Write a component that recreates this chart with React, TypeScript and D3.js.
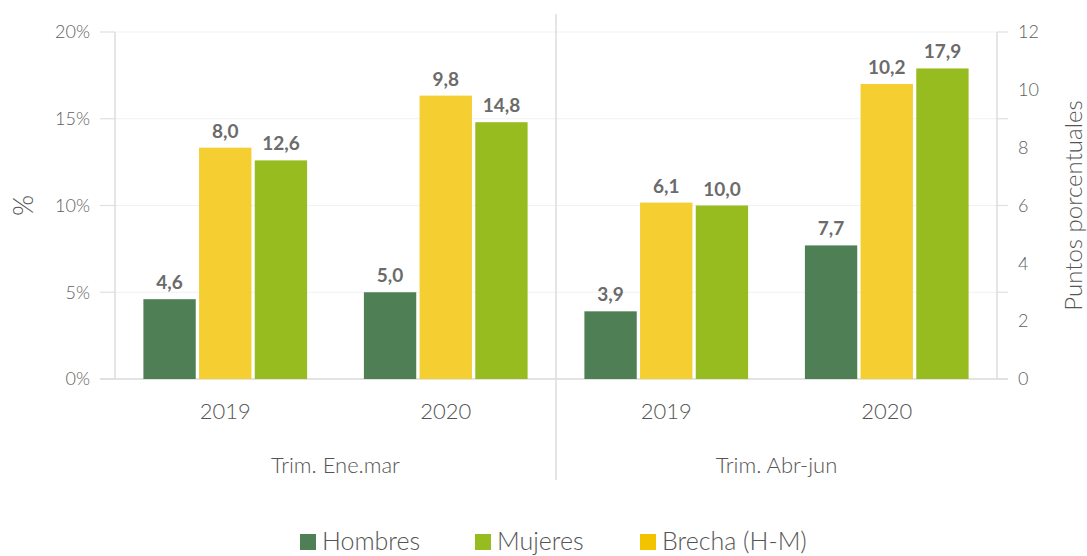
import React from "react";
import * as d3 from "d3";

const years = ["2019", "2020", "2019", "2020"];
const periods = ["Trim. Ene.mar", "Trim. Abr-jun"];
const hombres = [4.6, 5.0, 3.9, 7.7];
const mujeres = [12.6, 14.8, 10.0, 17.9];
const brecha = [8.0, 9.8, 6.1, 10.2];
const leftTicks = [0, 5, 10, 15, 20];
const rightTicks = [0, 2, 4, 6, 8, 10, 12];

const W = 1087;
const H = 556;
const font = "Lato, 'Noto Sans', sans-serif";
const colors = { hombres: "#4f7f55", mujeres: "#97bc20", brecha: "#f5ce31" };
const legendColors = { hombres: "#4f7f55", mujeres: "#97bc20", brecha: "#f4c300" };

const fmt = (v: number) => d3.format(".1f")(v).replace(".", ",");

export default function App() {
  const left = 115, right = 997, top = 32, bottom = 379;

  const x = d3.scaleBand<number>().domain(d3.range(years.length)).range([left, right]);
  const inner = d3
    .scaleBand<string>()
    .domain(["hombres", "brecha", "mujeres"])
    .range([0, x.bandwidth()])
    .paddingInner(0.06)
    .paddingOuter(0.51);
  const yL = d3.scaleLinear().domain([0, 20]).range([bottom, top]);
  const yR = d3.scaleLinear().domain([0, 12]).range([bottom, top]);

  const bars: { key: string; i: number; v: number; y: number }[] = [];
  years.forEach((_, i) => {
    bars.push({ key: "hombres", i, v: hombres[i], y: yL(hombres[i]) });
    bars.push({ key: "brecha", i, v: brecha[i], y: yR(brecha[i]) });
    bars.push({ key: "mujeres", i, v: mujeres[i], y: yL(mujeres[i]) });
  });

  const divX = (x(1)! + x.bandwidth() + x(2)!) / 2;

  const legend = [
    { key: "hombres", label: "Hombres", x: 300 },
    { key: "mujeres", label: "Mujeres", x: 475 },
    { key: "brecha", label: "Brecha (H-M)", x: 640 },
  ];

  return (
    <svg
      width={W}
      height={H}
      style={{ position: "absolute", left: 0, top: 0, background: "#fff" }}
      fontFamily={font}
    >
      {/* grid */}
      {leftTicks.map((t) => (
        <g key={"g" + t}>
          <line x1={left} x2={right} y1={yL(t)} y2={yL(t)} stroke="#f1f1f1" strokeWidth={1.2} />
          <line x1={100} x2={left} y1={yL(t)} y2={yL(t)} stroke="#e0e0e0" strokeWidth={1.2} />
          <line x1={right} x2={1008} y1={yL(t)} y2={yL(t)} stroke="#e0e0e0" strokeWidth={1.2} />
          <text x={90} y={yL(t)} dy="0.35em" textAnchor="end" fontSize={18} fontWeight={300} fill="#5e5e5e">
            {t}%
          </text>
        </g>
      ))}
      {rightTicks.map((t) => (
        <text key={"r" + t} x={1018} y={yR(t)} dy="0.35em" fontSize={18} fontWeight={300} fill="#5e5e5e">
          {t}
        </text>
      ))}
      <line x1={left} x2={left} y1={top} y2={bottom} stroke="#ddd" strokeWidth={1.5} />
      <line x1={right} x2={right} y1={top} y2={bottom} stroke="#ddd" strokeWidth={1.5} />
      <line x1={100} x2={1008} y1={bottom} y2={bottom} stroke="#ddd" strokeWidth={1.5} />
      <line x1={divX} x2={divX} y1={14} y2={480} stroke="#ddd" strokeWidth={1.5} />

      {/* bars */}
      {bars.map((b) => {
        const bx = x(b.i)! + inner(b.key)!;
        return (
          <g key={b.key + b.i}>
            <rect
              x={bx}
              y={b.y}
              width={inner.bandwidth()}
              height={bottom - b.y}
              fill={(colors as any)[b.key]}
            />
            <text
              x={bx + inner.bandwidth() / 2}
              y={b.y - 10}
              textAnchor="middle"
              fontSize={19}
              fontWeight="bold"
              fill="#6b6b6b"
            >
              {fmt(b.v)}
            </text>
          </g>
        );
      })}

      {/* x labels */}
      {years.map((yr, i) => (
        <text
          key={"y" + i}
          x={x(i)! + x.bandwidth() / 2}
          y={419}
          textAnchor="middle"
          fontSize={22}
          fontWeight={300}
          fill="#555"
        >
          {yr}
        </text>
      ))}
      {periods.map((p, j) => (
        <text
          key={p}
          x={x(j * 2 + 1)!}
          y={473}
          textAnchor="middle"
          fontSize={22}
          fontWeight={300}
          fill="#555"
        >
          {p}
        </text>
      ))}

      {/* axis titles */}
      <text
        transform={`translate(33,${(top + bottom) / 2}) rotate(-90)`}
        textAnchor="middle"
        fontSize={27}
        fontWeight={300}
        fill="#555"
      >
        %
      </text>
      <text
        transform={`translate(1082,${(top + bottom) / 2}) rotate(-90)`}
        textAnchor="middle"
        fontSize={24}
        fontWeight={300}
        fill="#555"
      >
        Puntos porcentuales
      </text>

      {/* legend */}
      {legend.map((l) => (
        <g key={l.key}>
          <rect x={l.x} y={534} width={16} height={16} fill={(legendColors as any)[l.key]} />
          <text x={l.x + 22} y={550} fontSize={25} fontWeight={300} fill="#555">
            {l.label}
          </text>
        </g>
      ))}
    </svg>
  );
}
